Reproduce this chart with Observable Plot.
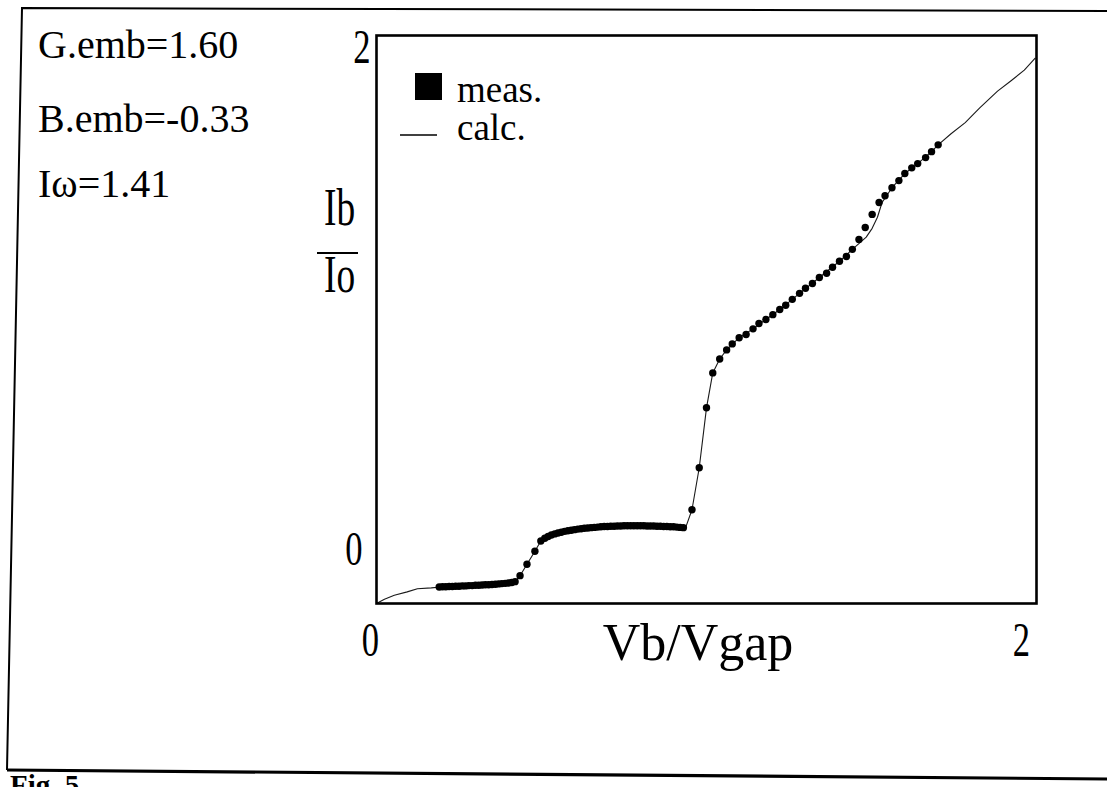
<!DOCTYPE html>
<html><head><meta charset="utf-8">
<script src="https://cdn.jsdelivr.net/npm/d3@7"></script>
<script src="https://cdn.jsdelivr.net/npm/@observablehq/plot@0.6"></script>
<style>
html,body{margin:0;padding:0;background:#fff;overflow:hidden;}
#wrap{position:relative;width:1107px;height:787px;overflow:hidden;background:#fff;}
#wrap svg{position:absolute;left:0;top:0;}
#wrap text{font-family:"Liberation Serif","Times New Roman",serif;}
</style></head><body><div id="wrap"></div>
<script>
// calculated curve (Vb/Vgap, Ib/Io)
const calcV = [0,0.024,0.054,0.093,0.124,0.166,0.196,0.25,0.30,0.35,0.40,0.42,0.435,0.456,0.48,0.498,0.525,0.565,0.647,0.768,0.85,0.937,0.956,0.978,1.0,1.019,1.04,1.061,1.099,1.141,1.18,1.222,1.282,1.342,1.403,1.442,1.484,1.502,1.518,1.532,1.562,1.601,1.64,1.682,1.702,1.741,1.784,1.828,1.882,1.921,1.963,1.996];
const calcI = [0,0.015,0.029,0.041,0.052,0.055,0.058,0.062,0.066,0.070,0.074,0.078,0.098,0.138,0.184,0.22,0.238,0.253,0.268,0.274,0.272,0.268,0.33,0.478,0.689,0.812,0.861,0.893,0.936,0.967,1.0,1.035,1.092,1.148,1.205,1.247,1.29,1.321,1.36,1.412,1.464,1.514,1.549,1.591,1.615,1.654,1.693,1.745,1.804,1.839,1.878,1.92];

// measured points
const measV = [0.19,0.20,0.21,0.22,0.23,0.24,0.25,0.26,0.27,0.28,0.29,0.30,0.31,0.32,0.33,0.34,0.35,0.36,0.37,0.38,0.39,0.40,0.41,0.42,
  0.435,0.456,0.48,0.498,
  0.51,0.52,0.53,0.54,0.55,0.56,0.57,0.58,0.59,0.60,0.61,0.62,0.63,0.64,0.65,0.66,0.67,0.68,0.69,0.70,0.71,0.72,0.73,0.74,0.75,0.76,0.77,0.78,0.79,0.80,0.81,0.82,0.83,0.84,0.85,0.86,0.87,0.88,0.89,0.90,0.91,0.92,0.93,
  0.956,0.978,1.0,1.019,1.04,1.061,1.078,1.099,1.12,1.141,1.159,1.18,1.201,1.222,1.24,1.26,1.282,1.30,1.321,1.342,1.364,1.382,1.403,1.424,1.442,1.462,1.481,1.502,1.523,1.541,1.562,1.583,1.601,1.622,1.64,1.664,1.682,1.702];
const measI = [0.058,0.059,0.059,0.060,0.060,0.061,0.061,0.062,0.062,0.063,0.063,0.064,0.064,0.065,0.066,0.066,0.067,0.068,0.069,0.070,0.071,0.072,0.074,0.077,
  0.098,0.138,0.184,0.22,
  0.230,0.236,0.241,0.245,0.248,0.251,0.254,0.256,0.258,0.260,0.262,0.263,0.265,0.266,0.267,0.268,0.269,0.270,0.271,0.271,0.272,0.272,0.273,0.273,0.274,0.274,0.274,0.274,0.274,0.274,0.274,0.273,0.273,0.273,0.272,0.272,0.271,0.271,0.270,0.270,0.269,0.268,0.267,
  0.33,0.478,0.689,0.812,0.861,0.893,0.914,0.936,0.947,0.967,0.986,1.0,1.017,1.035,1.05,1.071,1.092,1.11,1.127,1.148,1.163,1.184,1.205,1.222,1.247,1.282,1.324,1.37,1.412,1.436,1.464,1.489,1.514,1.534,1.549,1.57,1.591,1.615];

const xTicksLow = [0], xTicksHigh = [2];
const yTicksLow = [0], yTicksHigh = [2];
const params = ["G.emb=1.60", "B.emb=-0.33", "I\u03c9=1.41"];
const legendLabels = ["meas.", "calc."];
const xLabel = "Vb/Vgap";
const yNum = "Ib", yDen = "Io";
const figLabel = "Fig. 5";

const calc = calcV.map((v, k) => ({v, i: calcI[k]}));
const meas = measV.map((v, k) => ({v, i: measI[k]}));

const font = "Liberation Serif, Times New Roman, serif";
const fmt = d3.format("d");

const chart = Plot.plot({
  width: 1107, height: 787,
  marginLeft: 376, marginRight: 71, marginTop: 35, marginBottom: 184,
  x: {domain: [0, 2]},
  y: {domain: [0, 2]},
  style: {fontFamily: font, background: "transparent", color: "#000"},
  marks: [
    Plot.line(calc, {x: "v", y: "i", stroke: "#1a1a1a", strokeWidth: 1.1}),
    Plot.dot(meas, {x: "v", y: "i", r: 3.7, fill: "#000", stroke: "none"}),
    Plot.frame({stroke: "#000", strokeWidth: 2.6}),
    Plot.axisX(xTicksLow, {tickSize: 0, tickPadding: 18, fontSize: 48, dx: -6, label: null, tickFormat: fmt}),
    Plot.axisX(xTicksHigh, {tickSize: 0, tickPadding: 18, fontSize: 48, dx: -15, label: null, tickFormat: fmt}),
    Plot.axisY(yTicksHigh, {tickSize: 0, tickPadding: 6, fontSize: 48, dy: 12, label: null, tickFormat: fmt}),
    Plot.axisY(yTicksLow, {tickSize: 0, tickPadding: 14, fontSize: 48, dy: -54, label: null, tickFormat: fmt})
  ]
});
// condensed look of the axis numbers
chart.querySelectorAll('[aria-label$="tick label"] text').forEach(t => {
  const tr = t.getAttribute("transform") || "";
  t.setAttribute("transform", tr + " scale(0.72,1)");
});

const wrap = document.getElementById("wrap");
wrap.appendChild(chart);

// overlay with annotations
const ov = d3.create("svg").attr("width", 1107).attr("height", 787)
  .attr("font-family", font).style("pointer-events", "none");
const txt = (x, y, s, size) => ov.append("text").attr("x", x).attr("y", y)
  .attr("font-family", font).attr("font-size", size).attr("fill", "#000").text(s);

// outer border of the figure
ov.append("path").attr("d", "M1107,11 L22,8 L7,770").attr("fill", "none").attr("stroke", "#000").attr("stroke-width", 2);
ov.append("path").attr("d", "M7,770 L1107,779").attr("fill", "none").attr("stroke", "#000").attr("stroke-width", 3.2);

// parameter texts
const pBase = [58, 132, 197];
params.forEach((p, k) => txt(38, pBase[k], p, 40));

// legend
ov.append("rect").attr("x", 415).attr("y", 73).attr("width", 27).attr("height", 27).attr("fill", "#000");
txt(457, 102, legendLabels[0], 37);
ov.append("line").attr("x1", 400).attr("x2", 437).attr("y1", 135).attr("y2", 135).attr("stroke", "#000").attr("stroke-width", 1.6);
txt(457, 140, legendLabels[1], 37);

// y label as fraction
txt(0, 0, yNum, 52).attr("x", null).attr("y", null).attr("transform", "translate(324,225) scale(0.72,1)");
ov.append("line").attr("x1", 317).attr("x2", 358).attr("y1", 253).attr("y2", 253).attr("stroke", "#000").attr("stroke-width", 2);
txt(0, 0, yDen, 52).attr("x", null).attr("y", null).attr("transform", "translate(324,292) scale(0.72,1)");

// x label
txt(698, 660, xLabel, 52).attr("text-anchor", "middle");

// figure caption (cut at the bottom, as in the scan)
txt(10, 795, figLabel, 29).attr("font-weight", "bold");

wrap.appendChild(ov.node());
</script>
</body></html>
